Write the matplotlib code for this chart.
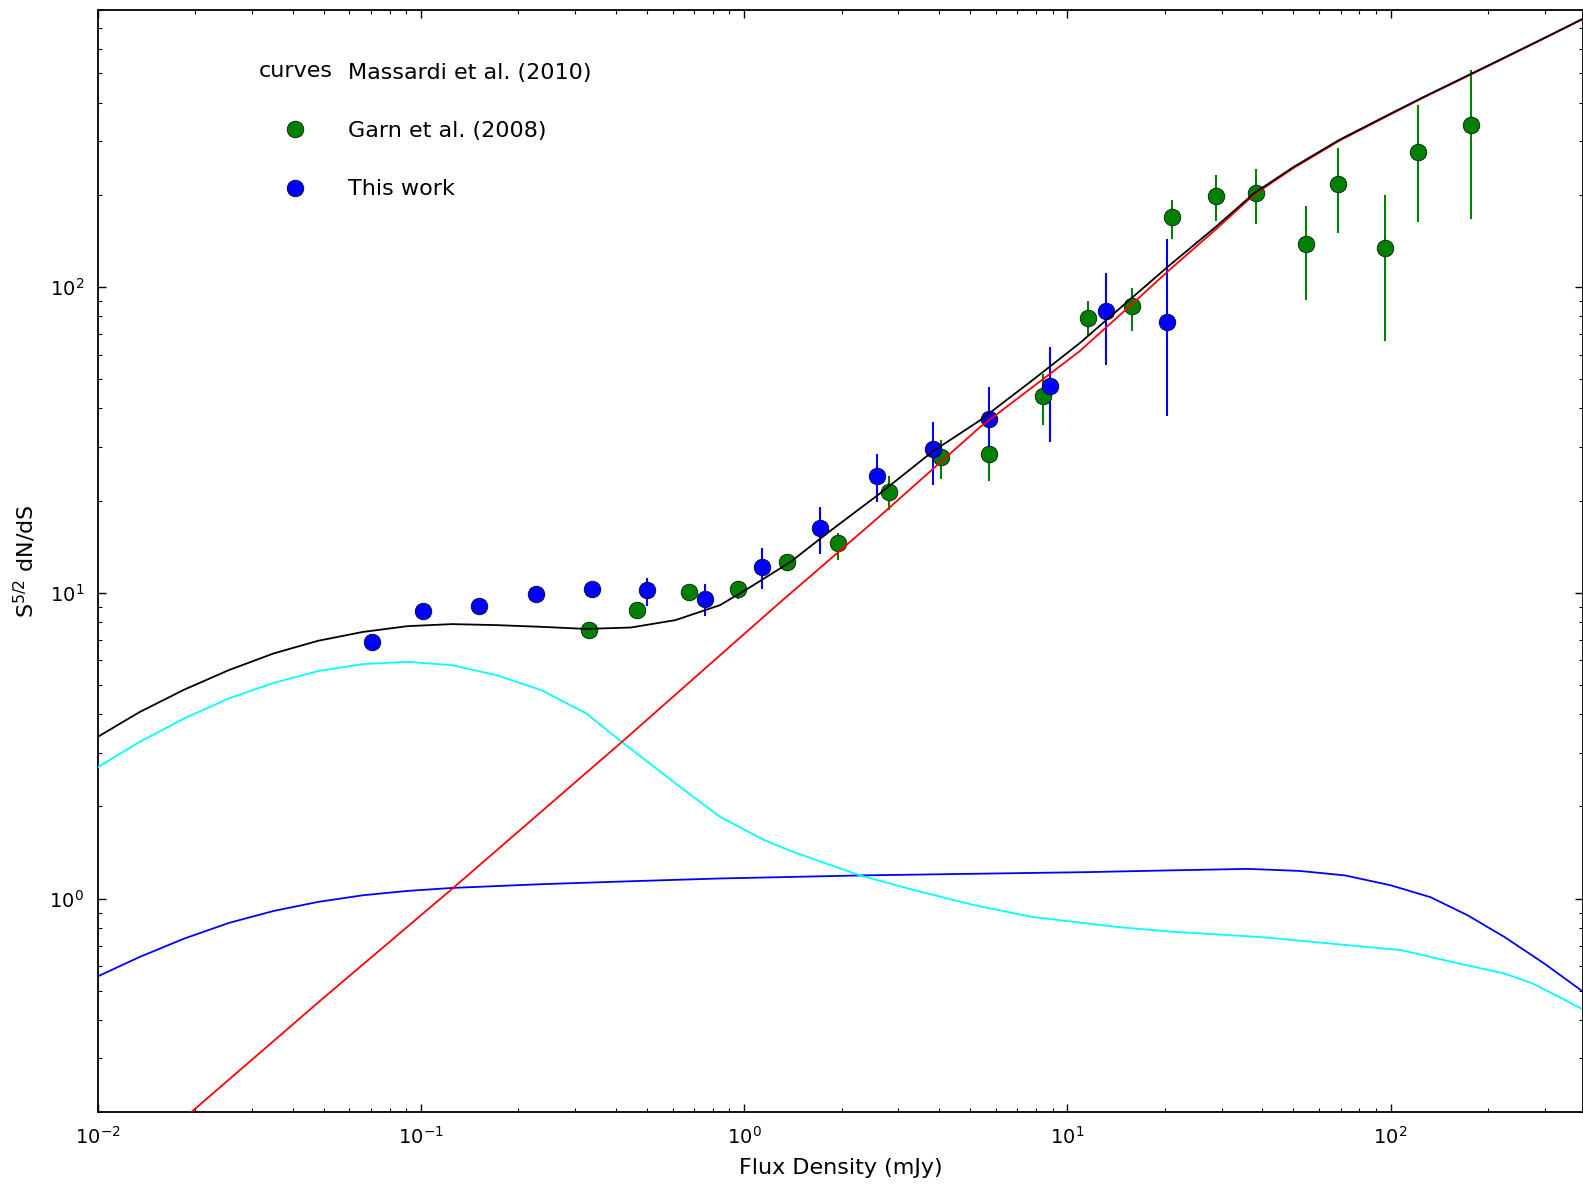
import matplotlib
matplotlib.use('Agg')
import matplotlib.pyplot as plt
import numpy as np
from matplotlib.lines import Line2D
from matplotlib.legend_handler import HandlerBase
from matplotlib.text import Text

plt.rcParams['font.family'] = ['DejaVu Sans']
plt.rcParams['mathtext.default'] = 'regular'
plt.rcParams['axes.unicode_minus'] = False

# --- data ---
# Garn et al. (2008): flux, value, lower, upper
garn_s = [0.330, 0.464, 0.674, 0.957, 1.36, 1.95, 2.80, 4.07, 5.70, 8.41,
          11.6, 15.8, 21.1, 28.8, 38.4, 54.6, 68.8, 95.8, 122, 177]
garn_y = [7.55, 8.79, 10.08, 10.3, 12.6, 14.5, 21.4, 27.7, 28.3, 44.0,
          79.0, 86.5, 169, 198, 203, 138, 217, 134, 275, 337]
garn_lo = [7.1, 8.5, 9.7, 9.55, 11.8, 12.75, 18.6, 23.6, 23.1, 35.4,
           68.9, 71.6, 143, 164, 160, 90.6, 150, 66.3, 163, 167]
garn_hi = [8.04, 9.1, 10.5, 10.9, 13.3, 15.7, 24.0, 31.6, 32.8, 51.8,
           89.9, 99.4, 192, 232, 243, 184, 284, 199, 393, 511]

# this work
our_s = [0.0703, 0.1015, 0.151, 0.227, 0.337, 0.501, 0.755, 1.138, 1.71,
         2.58, 3.84, 5.70, 8.85, 13.2, 20.4]
our_y = [6.89, 8.72, 9.06, 9.92, 10.3, 10.2, 9.55, 12.1, 16.3,
         24.0, 29.4, 36.9, 47.5, 83.3, 76.6]
our_lo = [6.7, 8.5, 8.85, 9.7, 10.05, 9.06, 8.40, 10.3, 13.4,
          19.8, 22.5, 28.8, 31.0, 55.3, 37.8]
our_hi = [7.1, 8.95, 9.3, 10.15, 10.55, 11.2, 10.7, 14.0, 19.1,
          28.3, 36.1, 47.1, 63.4, 111, 143]

# Massardi et al. (2010) model curves
tot_s = [0.01, 0.01345, 0.0185, 0.0254, 0.035, 0.048, 0.0661, 0.0908, 0.1247,
         0.1714, 0.2356, 0.324, 0.4455, 0.612, 0.841, 1.04, 1.39, 1.843, 2.63,
         3.84, 5.37, 7.8, 10.9, 15.8, 20.4, 28.8, 37.8, 50, 69.4, 100, 127,
         206, 290, 392]
tot_y = [3.38, 4.07, 4.82, 5.58, 6.33, 6.96, 7.44, 7.77, 7.89,
         7.83, 7.73, 7.61, 7.69, 8.13, 9.10, 10.4, 12.6, 15.9, 21.1,
         29.0, 36.6, 49.5, 65.3, 91.8, 116, 157, 202, 246, 302, 368, 418,
         536, 640, 750]

steep_s = [0.0194, 0.0496, 0.125, 0.418, 1.0, 1.314, 1.6, 2.63, 5.37, 10.9,
           15.8, 20.4, 28.8, 37.8, 50, 69.4, 100, 127, 206, 290, 392]
steep_y = [0.2, 0.471, 1.078, 3.25, 7.33, 9.45, 11.3, 17.8, 34.8, 61.5,
           87.5, 112, 154, 200, 244, 300, 366, 416, 534, 638, 748]

cyan_s = [0.01, 0.01345, 0.0185, 0.0254, 0.035, 0.048, 0.0661, 0.0908,
          0.1247, 0.1714, 0.2356, 0.324, 0.418, 0.612, 0.841, 1.156, 1.42,
          2.28, 3.42, 5.16, 7.76, 14.3, 21.4, 39.3, 108, 163, 225, 276, 324, 389]
cyan_y = [2.69, 3.25, 3.88, 4.51, 5.07, 5.54, 5.84, 5.94,
          5.79, 5.37, 4.80, 4.03, 3.25, 2.38, 1.85, 1.55, 1.42,
          1.19, 1.06, 0.951, 0.871, 0.807, 0.778, 0.749, 0.678, 0.613, 0.569,
          0.527, 0.483, 0.437]

flat_s = [0.01, 0.01345, 0.0185, 0.0254, 0.035, 0.048, 0.0661, 0.0908,
          0.1247, 0.2356, 0.4455, 0.841, 1.42, 2.30, 11.6, 20.0, 36.2, 52.3,
          72.3, 100, 133, 173, 225, 299, 389]
flat_y = [0.557, 0.644, 0.740, 0.832, 0.911, 0.975, 1.025, 1.059,
          1.083, 1.114, 1.139, 1.163, 1.177, 1.19, 1.22, 1.235, 1.25, 1.231,
          1.19, 1.105, 1.01, 0.882, 0.749, 0.613, 0.501]


class TextHandle(HandlerBase):
    # draws a bit of text where the legend marker would be
    def create_artists(self, legend, orig_handle, xdescent, ydescent,
                       width, height, fontsize, trans):
        t = Text(width / 2. - xdescent, height / 2. - ydescent, orig_handle,
                 ha='center', va='center', fontsize=fontsize, transform=trans)
        return [t]


fig = plt.figure(figsize=(15.83, 11.86), dpi=100)
ax = fig.add_axes([0.0619, 0.0621, 0.9381, 0.9295])

garn_s = np.array(garn_s); garn_y = np.array(garn_y)
our_s = np.array(our_s); our_y = np.array(our_y)
ax.errorbar(garn_s, garn_y,
            yerr=[garn_y - np.array(garn_lo), np.array(garn_hi) - garn_y],
            fmt='o', color='g', ecolor='g', mec='k', mew=0.5, ms=12,
            capsize=0, elinewidth=1.5, zorder=2)
ax.errorbar(our_s, our_y,
            yerr=[our_y - np.array(our_lo), np.array(our_hi) - our_y],
            fmt='o', color='b', ecolor='b', mec='k', mew=0.5, ms=12,
            capsize=0, elinewidth=1.5, zorder=2)

ax.plot(flat_s, flat_y, color='b', lw=1.3, zorder=3)
ax.plot(cyan_s, cyan_y, color='cyan', lw=1.3, zorder=3)
ax.plot(steep_s, steep_y, color='r', lw=1.3, zorder=3)
ax.plot(tot_s, tot_y, color='k', lw=1.3, zorder=4)

ax.set_xscale('log')
ax.set_yscale('log')
ax.set_xlim(0.01, 394)
ax.set_ylim(0.2, 803)

ax.tick_params(which='both', direction='in', top=True, right=True,
               labelsize=14, pad=10)
ax.tick_params(which='major', length=6, width=1)
ax.tick_params(which='minor', length=3, width=0.8)
for sp in ax.spines.values():
    sp.set_linewidth(1.3)

ax.set_xlabel('Flux Density (mJy)', fontsize=16, labelpad=7)
ax.set_ylabel(r'S$^{5/2}$ dN/dS', fontsize=16, labelpad=8)

handles = ['curves',
           Line2D([], [], ls='none', marker='o', color='g', mec='k', mew=0.5, ms=12),
           Line2D([], [], ls='none', marker='o', color='b', mec='k', mew=0.5, ms=12)]
labels = ['Massardi et al. (2010)', 'Garn et al. (2008)', 'This work']
ax.legend(handles, labels, handler_map={str: TextHandle()}, loc='upper left',
          bbox_to_anchor=(0.1075, 0.952), borderaxespad=0, borderpad=0,
          frameon=False, numpoints=1, fontsize=16, handlelength=3.4,
          handletextpad=0.68, labelspacing=1.72)

fig.savefig('out.png', dpi=100)
